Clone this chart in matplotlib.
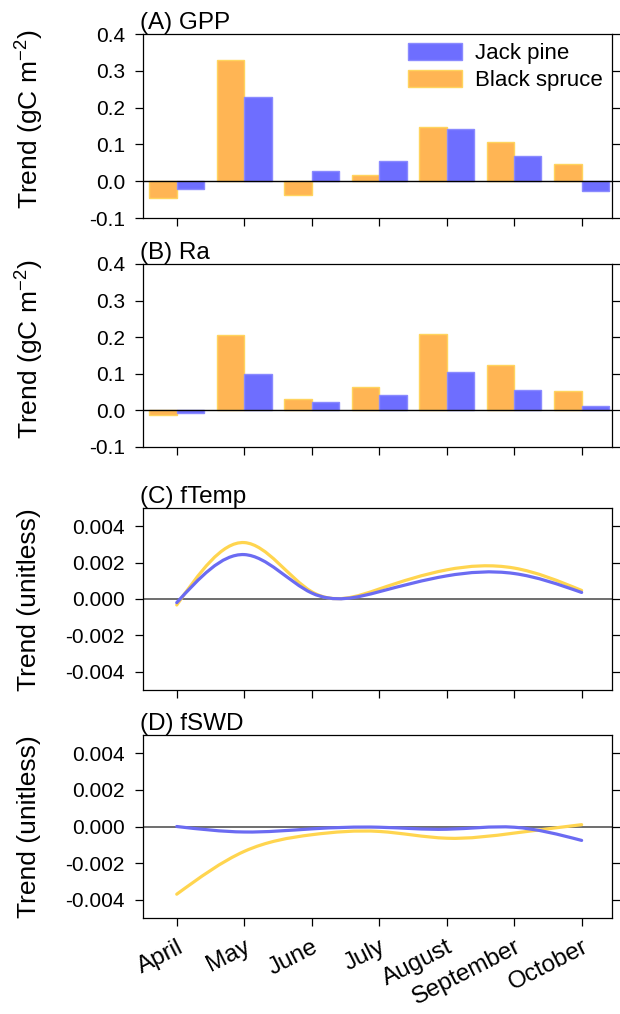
import numpy as np
import matplotlib
matplotlib.use("Agg")
import matplotlib.pyplot as plt
from matplotlib.path import Path
from matplotlib.patches import PathPatch
from matplotlib.ticker import FormatStrFormatter

plt.rcParams['font.family'] = ['Liberation Sans', 'DejaVu Sans']
plt.rcParams['mathtext.fontset'] = 'custom'
plt.rcParams['mathtext.rm'] = 'Liberation Sans'
plt.rcParams['mathtext.it'] = 'Liberation Sans'
plt.rcParams['mathtext.default'] = 'regular'
plt.rcParams['axes.unicode_minus'] = False

months = ["April", "May", "June", "July", "August", "September", "October"]
series = ["Jack pine", "Black spruce"]

gpp_jack = [-0.020, 0.229, 0.027, 0.055, 0.142, 0.068, -0.026]
gpp_black = [-0.045, 0.330, -0.038, 0.017, 0.147, 0.106, 0.047]

ra_jack = [-0.007, 0.099, 0.022, 0.042, 0.105, 0.057, 0.011]
ra_black = [-0.013, 0.205, 0.030, 0.065, 0.210, 0.124, 0.052]

ftemp_jack = [-0.0002, 0.00244, 0.00033, 0.00040, 0.00127, 0.00140, 0.00036]
ftemp_black = [-0.00033, 0.00310, 0.00040, 0.00055, 0.00160, 0.00170, 0.00047]

fswd_jack = [0.0, -0.00030, -0.00013, -0.00004, -0.00015, -0.00004, -0.00076]
fswd_black = [-0.00370, -0.00136, -0.00045, -0.00027, -0.00064, -0.00036, 0.00010]

BLUE = "#6E6EFF"
BLUE_EDGE = "#8A8AFF"
ORANGE = "#FFB554"
ORANGE_EDGE = "#FFD45E"
LBLUE = "#6B6BF2"
LYELLOW = "#FFD54F"

W, H = 620, 1014
fig = plt.figure(figsize=(W / 100, H / 100), dpi=100)


def ax_at(top, bottom, left=143, right=612):
    return fig.add_axes([left / W, 1 - bottom / H, (right - left) / W, (bottom - top) / H])


def spline_path(xs, ys):
    xs = np.asarray(xs, float)
    ys = np.asarray(ys, float)
    n = len(xs)
    A = np.zeros((n, n))
    b = np.zeros(n)
    A[0, 0] = 1
    A[-1, -1] = 1
    for i in range(1, n - 1):
        A[i, i - 1] = 1
        A[i, i] = 4
        A[i, i + 1] = 1
        b[i] = 6 * (ys[i + 1] - 2 * ys[i] + ys[i - 1])
    M = np.linalg.solve(A, b)
    verts = [(xs[0], ys[0])]
    codes = [Path.MOVETO]
    for i in range(n - 1):
        d = ys[i + 1] - ys[i]
        m0 = d - (2 * M[i] + M[i + 1]) / 6
        m1 = d + (M[i] + 2 * M[i + 1]) / 6
        verts += [(xs[i] + 1 / 3, ys[i] + m0 / 3),
                  (xs[i + 1] - 1 / 3, ys[i + 1] - m1 / 3),
                  (xs[i + 1], ys[i + 1])]
        codes += [Path.CURVE4] * 3
    return Path(verts, codes)


x = np.arange(len(months))
TICK_FS = 15
TITLE_FS = 17.5
YLAB_FS = 19
MONTH_FS = 17.5


def style(ax, show_x=False):
    ax.set_xlim(-0.5, 6.45)
    ax.set_xticks(x)
    for s in ax.spines.values():
        s.set_linewidth(0.9)
    ax.tick_params(axis='both', direction='out', length=6, width=0.9,
                   labelsize=TICK_FS, pad=7)
    ax.tick_params(axis='y', right=True, labelright=False)
    if show_x:
        ax.set_xticklabels(months, rotation=27, ha='right', rotation_mode='anchor',
                           fontsize=MONTH_FS)
        ax.tick_params(axis='x', pad=7)
    else:
        ax.set_xticklabels([])


width = 0.405

bar_panels = [
    (34, 218, gpp_jack, gpp_black, "(A) GPP", 119),
    (264, 447, ra_jack, ra_black, "(B) Ra", 349),
]
for i, (top, bot, jack, black, title, ylc) in enumerate(bar_panels):
    ax = ax_at(top, bot)
    ax.bar(x - width, black, width, align='edge', color=ORANGE, edgecolor=ORANGE_EDGE,
           linewidth=1, label=series[1], zorder=2)
    ax.bar(x, jack, width, align='edge', color=BLUE, edgecolor=BLUE_EDGE,
           linewidth=1, label=series[0], zorder=2)
    ax.axhline(0, color='black', linewidth=1, zorder=3)
    ax.set_ylim(-0.1, 0.4)
    ax.set_yticks(np.arange(-0.1, 0.41, 0.1))
    ax.yaxis.set_major_formatter(FormatStrFormatter('%.1f'))
    style(ax)
    ax.set_title(title, loc='left', fontsize=TITLE_FS, pad=2, x=-0.006)
    fig.text(29.5 / W, 1 - ylc / H, "Trend (gC m$^{-2}$)", rotation=90,
             ha='center', va='center', fontsize=YLAB_FS)
    if i == 0:
        h, l = ax.get_legend_handles_labels()
        ax.legend(h[::-1], l[::-1], loc='upper right', frameon=False,
                  fontsize=16, handlelength=2.45, handleheight=0.82,
                  handletextpad=0.6, labelspacing=0.25, borderaxespad=0.0,
                  borderpad=0.4, bbox_to_anchor=(1.0, 1.0))

line_panels = [
    (508, 690, ftemp_jack, ftemp_black, "(C) fTemp", 599.5, False),
    (735, 918, fswd_jack, fswd_black, "(D) fSWD", 826.5, True),
]
for top, bot, jack, black, title, ylc, last in line_panels:
    ax = ax_at(top, bot)
    ax.axhline(0, color='#555555', linewidth=1.2, zorder=1)
    ax.add_patch(PathPatch(spline_path(x, black), fill=False, edgecolor=LYELLOW,
                           linewidth=2.3, zorder=2, capstyle='round'))
    ax.add_patch(PathPatch(spline_path(x, jack), fill=False, edgecolor=LBLUE,
                           linewidth=2.3, zorder=3, capstyle='round'))
    ax.set_ylim(-0.005, 0.005)
    ax.set_yticks([-0.004, -0.002, 0.0, 0.002, 0.004])
    ax.yaxis.set_major_formatter(FormatStrFormatter('%.3f'))
    style(ax, show_x=last)
    ax.set_title(title, loc='left', fontsize=TITLE_FS, pad=2, x=-0.006)
    fig.text(29.5 / W, 1 - ylc / H, "Trend (unitless)", rotation=90,
             ha='center', va='center', fontsize=YLAB_FS)

fig.savefig("out.png", dpi=100)
